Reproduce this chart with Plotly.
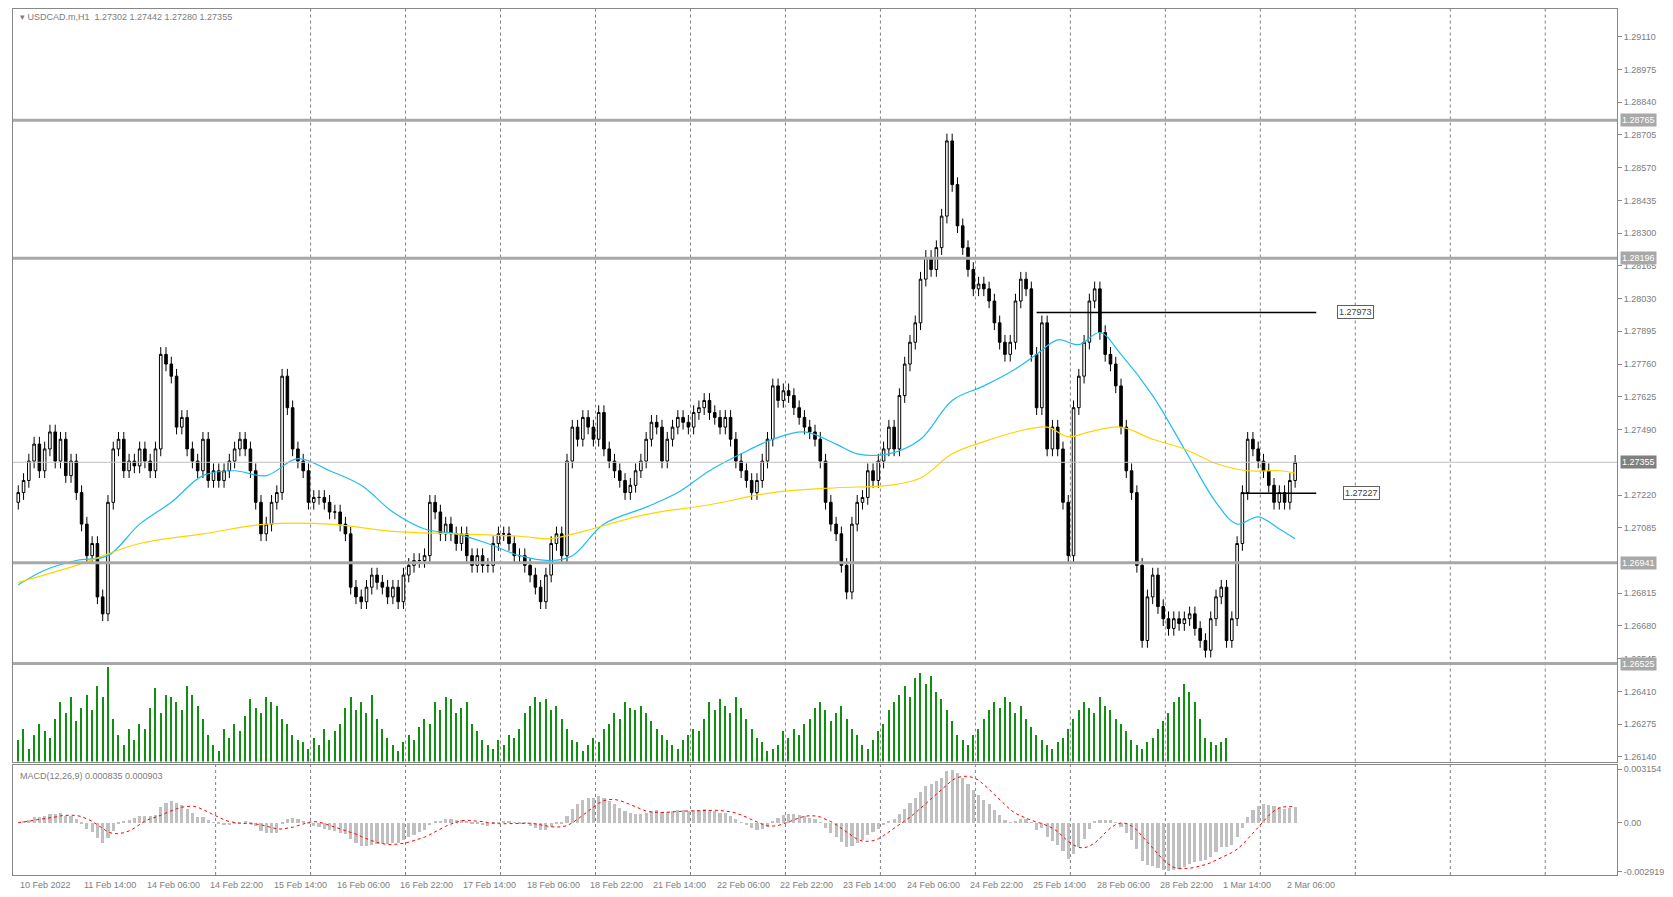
import plotly.graph_objects as go
import pandas as pd

# hourly closes (one value per candle)
closes = [
    1.2723, 1.2728, 1.2736, 1.2743, 1.2732, 1.2741, 1.2748, 1.2736, 1.2745, 1.2730,
    1.2736, 1.2723, 1.2710, 1.2697, 1.2702, 1.2680, 1.2673, 1.2719, 1.2741, 1.2745,
    1.2732, 1.2736, 1.2734, 1.2741, 1.2736, 1.2732, 1.2741, 1.2780, 1.2776, 1.2771,
    1.2750, 1.2754, 1.2741, 1.2736, 1.2732, 1.2745, 1.2728, 1.2732, 1.2728, 1.2732,
    1.2736, 1.2741, 1.2745, 1.2741, 1.2732, 1.2719, 1.2706, 1.2710, 1.2719, 1.2723,
    1.2771, 1.2758, 1.2741, 1.2736, 1.2732, 1.2719, 1.2721, 1.2721, 1.2719, 1.2715,
    1.2715, 1.2710, 1.2706, 1.2684, 1.2680, 1.2678, 1.2684, 1.2689, 1.2686, 1.2684,
    1.2680, 1.2684, 1.2678, 1.2689, 1.2693, 1.2695, 1.2695, 1.2697, 1.2719, 1.2715,
    1.2706, 1.2710, 1.2706, 1.2702, 1.2706, 1.2697, 1.2693, 1.2697, 1.2693, 1.2693,
    1.2702, 1.2706, 1.2706, 1.2702, 1.2697, 1.2697, 1.2693, 1.2689, 1.2684, 1.2678,
    1.2689, 1.2702, 1.2706, 1.2697, 1.2736, 1.2750, 1.2745, 1.2754, 1.2750, 1.2745,
    1.2756, 1.2741, 1.2736, 1.2732, 1.2728, 1.2723, 1.2726, 1.2732, 1.2736, 1.2745,
    1.2752, 1.2750, 1.2736, 1.2745, 1.2750, 1.2754, 1.2752, 1.2750, 1.2756, 1.2758,
    1.2761, 1.2756, 1.2754, 1.2750, 1.2754, 1.2745, 1.2736, 1.2732, 1.2728, 1.2723,
    1.2728, 1.2736, 1.2745, 1.2767, 1.2761, 1.2765, 1.2763, 1.2758, 1.2754, 1.2750,
    1.2748, 1.2745, 1.2736, 1.2719, 1.2710, 1.2706, 1.2693, 1.2682, 1.2710, 1.2719,
    1.2721, 1.2732, 1.2728, 1.2736, 1.2741, 1.2750, 1.2741, 1.2763, 1.2776, 1.2785,
    1.2793, 1.2811, 1.2820, 1.2815, 1.2824, 1.2837, 1.2868, 1.2850, 1.2833, 1.2824,
    1.2815, 1.2807, 1.2809, 1.2807, 1.2802, 1.2793, 1.2785, 1.2780, 1.2785, 1.2802,
    1.2811, 1.2807, 1.2780, 1.2758, 1.2793, 1.2741, 1.2750, 1.2741, 1.2719, 1.2697,
    1.2758, 1.2771, 1.2785, 1.2802, 1.2807, 1.2789, 1.2780, 1.2776, 1.2767, 1.2750,
    1.2732, 1.2723, 1.2693, 1.2662, 1.2680, 1.2689, 1.2676, 1.2671, 1.2667, 1.2671,
    1.2669, 1.2671, 1.2673, 1.2667, 1.2662, 1.2658, 1.2671, 1.2680, 1.2684, 1.2662,
    1.2671, 1.2702, 1.2723, 1.2745, 1.2741, 1.2736, 1.2732, 1.2726, 1.2719, 1.2723,
    1.2719, 1.2728, 1.27355,
]
volumes = [
    20, 30, 12, 25, 35, 28, 22, 40, 55, 45, 60, 38, 50, 62, 48, 70, 60, 88,
    40, 25, 15, 30, 20, 35, 30, 50, 68, 45, 62, 60, 55, 48, 70, 62, 52, 40,
    25, 15, 10, 30, 22, 35, 28, 42, 58, 50, 45, 60, 55, 52, 40, 35, 25, 20,
    18, 12, 22, 15, 30, 20, 28, 35, 50, 60, 48, 55, 45, 62, 40, 30, 22, 15,
    10, 18, 25, 20, 32, 40, 35, 55, 48, 60, 58, 45, 50, 55, 35, 28, 20, 15,
    12, 20, 15, 25, 22, 30, 45, 52, 60, 55, 58, 48, 52, 40, 30, 20, 18, 10,
    15, 22, 18, 30, 35, 45, 40, 55, 50, 48, 52, 45, 38, 30, 25, 20, 15, 12,
    20, 25, 30, 28, 40, 55, 48, 58, 52, 45, 60, 50, 40, 30, 22, 18, 10, 12,
    15, 28, 22, 30, 25, 35, 40, 50, 55, 48, 38, 45, 52, 40, 30, 25, 15, 12,
    20, 28, 35, 48, 55, 62, 70, 60, 78, 82, 72, 80, 65, 58, 48, 38, 25, 20,
    15, 25, 30, 40, 48, 55, 50, 60, 55, 45, 52, 40, 32, 25, 20, 15, 12, 18,
    22, 30, 40, 48, 55, 50, 45, 60, 52, 48, 40, 35, 28, 20, 15, 12, 18, 22,
    30, 38, 45, 55, 60, 72, 65, 55, 40, 22, 18, 15, 18, 22,
]
ma_fast_x = [0, 5, 11, 17, 23, 29, 35, 41, 47, 53, 59, 65, 71, 77, 83, 89, 95, 101, 105,
             111, 119, 125, 131, 137, 143, 149, 155, 159, 165, 171, 177, 183, 189, 193,
             197, 201, 205, 209, 215, 221, 227, 231, 235, 239, 242]
ma_fast = [1.2685, 1.2691, 1.2695, 1.2697, 1.2710, 1.2719, 1.2730, 1.2732, 1.2730, 1.2737,
           1.2732, 1.2726, 1.2715, 1.2708, 1.2706, 1.2702, 1.2697, 1.2695, 1.2697, 1.2710,
           1.2717, 1.2723, 1.2732, 1.2739, 1.2745, 1.2748, 1.2743, 1.2739, 1.2739, 1.2745,
           1.2761, 1.2767, 1.2774, 1.2780, 1.2786, 1.2784, 1.2789, 1.2780, 1.2763, 1.2741,
           1.2719, 1.2710, 1.2713, 1.2708, 1.2704]
ma_slow_x = [0, 11, 23, 35, 47, 59, 71, 83, 95, 101, 107, 119, 131, 143, 155, 165, 171,
             177, 183, 189, 195, 199, 203, 209, 215, 221, 227, 233, 239, 242]
ma_slow = [1.2686, 1.2693, 1.2702, 1.2706, 1.2710, 1.2710, 1.2707, 1.2706, 1.2705, 1.2704,
           1.2707, 1.2714, 1.2718, 1.2723, 1.2725, 1.2726, 1.2729, 1.2739, 1.2744, 1.2748,
           1.2750, 1.2746, 1.2748, 1.2750, 1.2745, 1.2741, 1.2735, 1.2732, 1.2732, 1.2731]
level_lines = [1.28765, 1.28196, 1.26941, 1.26525]
level_labels = ["1.28765", "1.28196", "1.26941", "1.26525"]
date_labels = ["10 Feb 2022", "11 Feb 14:00", "14 Feb 06:00", "14 Feb 22:00", "15 Feb 14:00",
               "16 Feb 06:00", "16 Feb 22:00", "17 Feb 14:00", "18 Feb 06:00", "18 Feb 22:00",
               "21 Feb 14:00", "22 Feb 06:00", "22 Feb 22:00", "23 Feb 14:00", "24 Feb 06:00",
               "24 Feb 22:00", "25 Feb 14:00", "28 Feb 06:00", "28 Feb 22:00", "1 Mar 14:00",
               "2 Mar 06:00"]
price_ticks = [1.29110, 1.28975, 1.28840, 1.28705, 1.28570, 1.28435, 1.28300, 1.28165, 1.28030,
               1.27895, 1.27760, 1.27625, 1.27490, 1.27220, 1.27085, 1.26815, 1.26680,
               1.26545, 1.26410, 1.26275, 1.26140]

df = pd.DataFrame({"close": closes})
df["open"] = df["close"].shift(1).fillna(df["close"].iloc[0] - 0.0004)
df["high"] = df[["open", "close"]].max(axis=1) + 0.0003
df["low"] = df[["open", "close"]].min(axis=1) - 0.0003
df["x"] = range(len(df))
# spans scaled to the number of candles kept here
ema_fast = df["close"].ewm(span=9, adjust=False).mean()
ema_slow = df["close"].ewm(span=20, adjust=False).mean()
df["macd"] = ema_fast - ema_slow
df["signal"] = df["macd"].rolling(7, min_periods=1).mean()

GRAY = "#888888"
TXT = "#7d7d7d"
FONT = "Liberation Sans, Arial, sans-serif"
XR = [-1, 303]

fig = go.Figure()
fig.add_trace(go.Bar(x=df["x"], y=volumes, marker_color="#109010", width=0.25,
                     marker_line_width=0, xaxis="x", yaxis="y3", showlegend=False))
for lv in level_lines:
    fig.add_hline(y=lv, line=dict(color="#a8a8a8", width=3), yref="y")
fig.add_hline(y=1.27355, line=dict(color="#c0c0c0", width=1), yref="y")
fig.add_trace(go.Candlestick(
    x=df["x"], open=df["open"], high=df["high"], low=df["low"], close=df["close"],
    increasing=dict(line=dict(color="black", width=1), fillcolor="white"),
    decreasing=dict(line=dict(color="black", width=1), fillcolor="black"),
    whiskerwidth=0, showlegend=False, xaxis="x", yaxis="y"))
fig.add_trace(go.Scatter(x=ma_fast_x, y=ma_fast, mode="lines", line=dict(color="#1ebdf0", width=1.2),
                         line_shape="spline", showlegend=False, xaxis="x", yaxis="y"))
fig.add_trace(go.Scatter(x=ma_slow_x, y=ma_slow, mode="lines", line=dict(color="#ffd400", width=1.2),
                         line_shape="spline", showlegend=False, xaxis="x", yaxis="y"))
fig.add_trace(go.Scatter(x=[193, 246], y=[1.27973, 1.27973], mode="lines",
                         line=dict(color="black", width=1.5), showlegend=False))
fig.add_trace(go.Scatter(x=[232, 246], y=[1.27227, 1.27227], mode="lines",
                         line=dict(color="black", width=1.5), showlegend=False))

fig.add_trace(go.Bar(x=df["x"], y=df["macd"], marker_color="#c0c0c0", width=0.6,
                     marker_line_width=0, xaxis="x2", yaxis="y2", showlegend=False))
fig.add_trace(go.Scatter(x=df["x"], y=df["signal"], mode="lines",
                         line=dict(color="red", width=1, dash="dot"),
                         xaxis="x2", yaxis="y2", showlegend=False))

shapes = []
for k in range(17):
    xg = 1.4 + 18 * k
    for xr, yr in (("x", "y"), ("x2", "y2")):
        shapes.append(dict(type="line", xref=xr, yref=yr + " domain", x0=xg, x1=xg, y0=0, y1=1,
                           line=dict(color="#808080", width=1, dash="3px,3px"), layer="below"))

ann = []
for i, lab in enumerate(date_labels):
    ann.append(dict(x=12 * i, y=-0.003, xref="x2", yref="paper", text=lab, showarrow=False,
                    xanchor="left", yanchor="top", font=dict(size=9, color=TXT, family=FONT)))
for lv, lab in zip(level_lines, level_labels):
    ann.append(dict(x=1.002, y=lv, xref="paper", yref="y", text=lab, showarrow=False, xanchor="left",
                    bgcolor="#a8a8a8", font=dict(size=9, color="white", family=FONT), borderpad=1))
ann.append(dict(x=1.002, y=1.27355, xref="paper", yref="y", text="1.27355", showarrow=False,
                xanchor="left", bgcolor="#808080", font=dict(size=9, color="white", family=FONT),
                borderpad=1))
for lv, xp in [(1.27973, 250), (1.27227, 251)]:
    ann.append(dict(x=xp, y=lv, xref="x", yref="y", text=f"{lv:.5f}", showarrow=False, xanchor="left",
                    bgcolor="white", bordercolor="#606060", borderwidth=1, borderpad=1,
                    font=dict(size=9, color="#404040", family=FONT)))
ann.append(dict(x=0.003, y=0.999, xref="paper", yref="paper", text="▾ USDCAD.m,H1  1.27302 1.27442 1.27280 1.27355",
                showarrow=False, xanchor="left", yanchor="top", font=dict(size=9, color=TXT, family=FONT)))
ann.append(dict(x=0.003, y=0.122, xref="paper", yref="paper", text="MACD(12,26,9) 0.000835 0.000903",
                showarrow=False, xanchor="left", yanchor="top", font=dict(size=9, color=TXT, family=FONT)))

axis_common = dict(showgrid=False, zeroline=False, showline=True, linecolor=GRAY, mirror=True,
                   ticks="outside", ticklen=4, tickcolor=GRAY,
                   tickfont=dict(size=9, color=TXT, family=FONT))
fig.update_layout(
    width=1673, height=897, paper_bgcolor="white", plot_bgcolor="white",
    margin=dict(l=5, r=64, t=1, b=30), bargap=0,
    xaxis=dict(domain=[0, 1], range=XR, showticklabels=False, showgrid=False, zeroline=False,
               showline=True, linecolor=GRAY, mirror=True, rangeslider=dict(visible=False), anchor="y"),
    yaxis=dict(domain=[0.131, 1], range=[1.26121, 1.29224], side="right", tickvals=price_ticks,
               tickformat=".5f", **axis_common),
    yaxis3=dict(domain=[0.131, 1], range=[0, 700], overlaying="y", visible=False),
    xaxis2=dict(domain=[0, 1], range=XR, showticklabels=False, showgrid=False, zeroline=False,
                showline=True, linecolor=GRAY, mirror=True, anchor="y2"),
    yaxis2=dict(domain=[0, 0.127], range=[-0.0031, 0.0034], side="right",
                tickvals=[0.003154, 0, -0.002919], ticktext=["0.003154", "0.00", "-0.002919"],
                anchor="x2", **axis_common),
    shapes=shapes, annotations=ann,
)
fig.write_html("out.html")
